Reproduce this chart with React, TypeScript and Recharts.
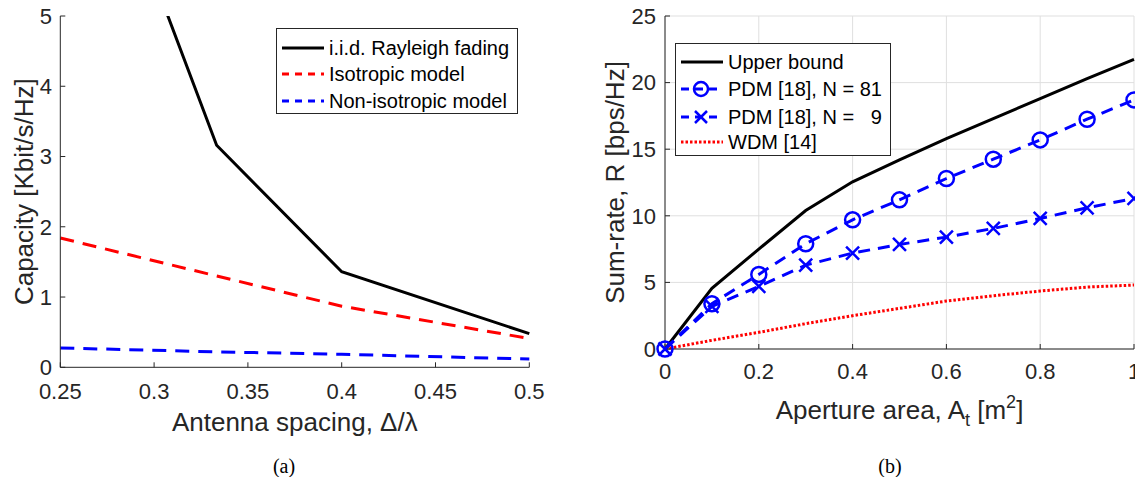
import React from 'react';
import { LineChart, Line, XAxis, YAxis, CartesianGrid, Legend, Label } from 'recharts';

// ---------- Data: panel (a) ----------
const spacing = [0.25, 1 / 3, 0.4, 0.5];
const iidRayleigh = [9.06, 3.16, 1.36, 0.48];
const isotropicModel = [1.84, 1.3, 0.87, 0.41];
const nonIsotropicModel = [0.275, 0.22, 0.185, 0.118];
const spacingTicks = [0.25, 0.3, 0.35, 0.4, 0.45, 0.5];
const capacityTicks = [0, 1, 2, 3, 4, 5];

// ---------- Data: panel (b) ----------
const aperture = [0, 0.1, 0.2, 0.3, 0.4, 0.5, 0.6, 0.7, 0.8, 0.9, 1];
const upperBound = [0, 4.55, 7.5, 10.4, 12.55, 14.2, 15.8, 17.3, 18.8, 20.3, 21.75];
const pdm81 = [0, 3.4, 5.6, 7.9, 9.7, 11.2, 12.8, 14.25, 15.7, 17.25, 18.7];
const pdm9 = [0, 3.2, 4.7, 6.3, 7.2, 7.85, 8.4, 9.05, 9.8, 10.6, 11.3];
const wdm = [0, 0.65, 1.25, 1.9, 2.5, 3.05, 3.6, 4.0, 4.35, 4.65, 4.8];
const apertureTicks = [0, 0.2, 0.4, 0.6, 0.8, 1];
const rateTicks = [0, 5, 10, 15, 20, 25];

const dataA = spacing.map((x, i) => ({
  x,
  iid: iidRayleigh[i],
  iso: isotropicModel[i],
  non: nonIsotropicModel[i],
}));
const dataB = aperture.map((x, i) => ({
  x,
  ub: upperBound[i],
  p81: pdm81[i],
  p9: pdm9[i],
  wdm: wdm[i],
}));

const FONT = '"Liberation Sans", Arial, Helvetica, sans-serif';
const AX = '#262626';
const BLUE = '#0000ff';
const RED = '#ff0000';
const tickStyle = { fill: AX, fontSize: 22, fontFamily: FONT };
const labelSize = 26;

const CircleDot = (p: any) => {
  const { cx, cy } = p;
  if (cx == null || cy == null) return null;
  return <circle cx={cx} cy={cy} r={7.5} stroke={BLUE} strokeWidth={2.5} fill="none" />;
};
const CrossDot = (p: any) => {
  const { cx, cy } = p;
  if (cx == null || cy == null) return null;
  const s = 6.5;
  return (
    <path
      d={`M${cx - s},${cy - s}L${cx + s},${cy + s}M${cx - s},${cy + s}L${cx + s},${cy - s}`}
      stroke={BLUE}
      strokeWidth={2.5}
      fill="none"
    />
  );
};

type Item = { label: string; color: string; dash?: string; width: number; marker?: 'o' | 'x' };

const legendA: Item[] = [
  { label: 'i.i.d. Rayleigh fading', color: '#000', width: 3 },
  { label: 'Isotropic model', color: RED, dash: '7 6', width: 3 },
  { label: 'Non-isotropic model', color: BLUE, dash: '7 6', width: 3 },
];
const legendB: Item[] = [
  { label: 'Upper bound', color: '#000', width: 3 },
  { label: 'PDM [18], N = 81', color: BLUE, dash: '8 6', width: 3, marker: 'o' },
  { label: 'PDM [18], N =   9', color: BLUE, dash: '8 6', width: 3, marker: 'x' },
  { label: 'WDM [14]', color: RED, dash: '2.5 2', width: 3 },
];

const LegendBox = ({ items, width, height, rows }: { items: Item[]; width: number; height: number; rows: number[] }) => (
  <div
    style={{
      width,
      height,
      border: `1px solid ${AX}`,
      background: '#fff',
      position: 'relative',
      boxSizing: 'border-box',
      fontFamily: FONT,
      fontSize: 20,
      color: '#000',
    }}
  >
    {items.map((it, i) => (
      <div key={it.label} style={{ position: 'absolute', left: 0, top: rows[i] - 12, height: 24, width: '100%' }}>
        <svg width={50} height={24} style={{ position: 'absolute', left: 0, top: 0 }}>
          <line x1={5} y1={12} x2={47} y2={12} stroke={it.color} strokeWidth={it.width} strokeDasharray={it.dash} />
          {it.marker === 'o' && <circle cx={25} cy={12} r={7} stroke={it.color} strokeWidth={2.5} fill="none" />}
          {it.marker === 'x' && (
            <path d="M19,6L31,18M19,18L31,6" stroke={it.color} strokeWidth={2.5} fill="none" />
          )}
        </svg>
        <span
          style={{ position: 'absolute', left: 52, top: 0, lineHeight: '24px', whiteSpace: 'pre' }}
        >
          {it.label}
        </span>
      </div>
    ))}
  </div>
);

const rotLabel = (text: React.ReactNode, bx: number) => (props: any) => {
  const vb = props.viewBox || {};
  const cy = vb.y + vb.height / 2;
  return (
    <text
      x={bx}
      y={cy}
      transform={`rotate(-90 ${bx} ${cy})`}
      textAnchor="middle"
      fill={AX}
      fontSize={labelSize}
      fontFamily={FONT}
    >
      {text}
    </text>
  );
};

export default function App() {
  return (
    <div style={{ position: 'absolute', left: 0, top: 0, width: 1135, height: 477, background: '#fff', overflow: 'hidden' }}>
      {/* Panel (a) */}
      <div style={{ position: 'absolute', left: 0, top: 0 }}>
        <LineChart width={560} height={477} data={dataA} margin={{ top: 16, right: 30.7, bottom: 50, left: 0 }}>
          <XAxis
            dataKey="x"
            type="number"
            domain={[0.25, 0.5]}
            ticks={spacingTicks}
            interval={0}
            tickSize={-5}
            tickMargin={20.7}
            tick={tickStyle}
            stroke={AX}
            height={59.7}
            tickFormatter={(v: number) => String(+v.toFixed(2))}
          >
            <Label
              content={(p: any) => {
                const vb = p.viewBox || {};
                return (
                  <text x={vb.x + vb.width / 2} y={vb.y + 63.7} textAnchor="middle" fill={AX} fontSize={labelSize} fontFamily={FONT}>
                    Antenna spacing, Δ/λ
                  </text>
                );
              }}
            />
          </XAxis>
          <XAxis xAxisId="top" orientation="top" type="number" dataKey="x" domain={[0.25, 0.5]} ticks={spacingTicks} interval={0} tickSize={-5} tick={false} stroke={AX} height={0} />
          <YAxis
            type="number"
            domain={[0, 5]}
            ticks={capacityTicks}
            interval={0}
            allowDataOverflow
            tickSize={-5}
            tickMargin={13.3}
            tick={tickStyle}
            stroke={AX}
            width={60.3}
          >
            <Label content={rotLabel('Capacity [Kbit/s/Hz]', 33)} />
          </YAxis>
          <YAxis yAxisId="right" orientation="right" type="number" domain={[0, 5]} ticks={capacityTicks} interval={0} tickSize={-5} tick={false} stroke={AX} width={0} />
          <Line dataKey="iid" type="linear" stroke="#000" strokeWidth={3} dot={false} isAnimationActive={false} />
          <Line dataKey="iso" type="linear" stroke={RED} strokeWidth={3} strokeDasharray="14 9" dot={false} isAnimationActive={false} />
          <Line dataKey="non" type="linear" stroke={BLUE} strokeWidth={3} strokeDasharray="14 9" dot={false} isAnimationActive={false} />
          <Legend
            layout="vertical"
            align="center"
            verticalAlign="middle"
            wrapperStyle={{ left: 276, top: 28, width: 242, height: 86 }}
            content={() => <LegendBox items={legendA} width={242} height={86} rows={[18.7, 44.7, 72]} />}
          />
        </LineChart>
      </div>

      {/* Panel (b) */}
      <div style={{ position: 'absolute', left: 575, top: 0 }}>
        <LineChart width={560} height={477} data={dataB} margin={{ top: 16, right: 1, bottom: 68, left: 0 }}>
          <CartesianGrid stroke="#dfdfdf" strokeWidth={1} />
          <XAxis
            dataKey="x"
            type="number"
            domain={[0, 1]}
            ticks={apertureTicks}
            interval={0}
            tickSize={-5}
            tickMargin={19}
            tick={tickStyle}
            stroke={AX}
            height={60}
            tickFormatter={(v: number) => String(+v.toFixed(1))}
          >
            <Label
              content={(p: any) => {
                const vb = p.viewBox || {};
                return (
                  <text x={vb.x + vb.width / 2} y={vb.y + 70} textAnchor="middle" fill={AX} fontSize={labelSize} fontFamily={FONT}>
                    Aperture area, A
                    <tspan fontSize={18} dy={7}>t</tspan>
                    <tspan dy={-7}> [m</tspan>
                    <tspan fontSize={18} dy={-11}>2</tspan>
                    <tspan dy={11}>]</tspan>
                  </text>
                );
              }}
            />
          </XAxis>
          <XAxis xAxisId="top" orientation="top" type="number" dataKey="x" domain={[0, 1]} ticks={apertureTicks} interval={0} tickSize={-5} tick={false} stroke={AX} height={0} />
          <YAxis
            type="number"
            domain={[0, 25]}
            ticks={rateTicks}
            interval={0}
            tickSize={-5}
            tickMargin={14}
            tick={tickStyle}
            stroke={AX}
            width={90}
          >
            <Label content={rotLabel('Sum-rate, R [bps/Hz]', 49)} />
          </YAxis>
          <YAxis yAxisId="right" orientation="right" type="number" domain={[0, 25]} ticks={rateTicks} interval={0} tickSize={-5} tick={false} stroke={AX} width={0} />
          <Line dataKey="ub" type="linear" stroke="#000" strokeWidth={3} dot={false} isAnimationActive={false} />
          <Line dataKey="wdm" type="linear" stroke={RED} strokeWidth={3} strokeDasharray="2.5 2" dot={false} isAnimationActive={false} />
          <Line
            dataKey="p9"
            type="linear"
            stroke={BLUE}
            strokeWidth={3}
            strokeDasharray="12 8"
            dot={(p: any) => <CrossDot key={`x${p.index}`} {...p} />}
            isAnimationActive={false}
          />
          <Line
            dataKey="p81"
            type="linear"
            stroke={BLUE}
            strokeWidth={3}
            strokeDasharray="12 8"
            dot={(p: any) => <CircleDot key={`o${p.index}`} {...p} />}
            isAnimationActive={false}
          />
          <Legend
            layout="vertical"
            align="center"
            verticalAlign="middle"
            wrapperStyle={{ left: 100, top: 43, width: 216, height: 113 }}
            content={() => <LegendBox items={legendB} width={216} height={113} rows={[17.5, 45, 72.5, 97.5]} />}
          />
        </LineChart>
      </div>

      {/* Captions */}
      <div style={{ position: 'absolute', left: 234, width: 100, top: 456, textAlign: 'center', fontFamily: '"Liberation Serif", "Times New Roman", serif', fontSize: 20, lineHeight: '20px', color: '#000' }}>
        (a)
      </div>
      <div style={{ position: 'absolute', left: 840, width: 100, top: 456, textAlign: 'center', fontFamily: '"Liberation Serif", "Times New Roman", serif', fontSize: 20, lineHeight: '20px', color: '#000' }}>
        (b)
      </div>
    </div>
  );
}
